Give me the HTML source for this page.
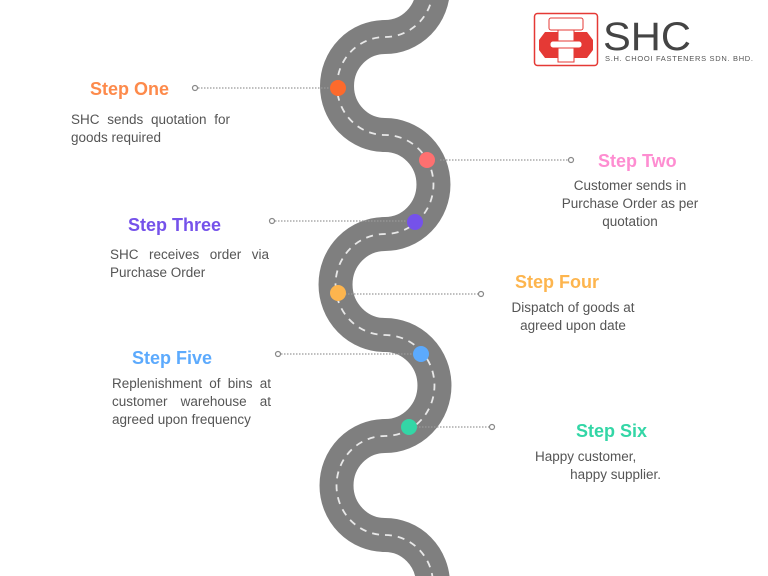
<!DOCTYPE html>
<html><head><meta charset="utf-8"><style>
html,body{margin:0;padding:0;background:#fff;overflow:hidden;width:768px;height:576px;position:relative;}
svg{display:block;position:absolute;left:0;top:0;}
.h{font-family:"Liberation Sans",sans-serif;font-weight:bold;font-size:18px;}
.t{position:absolute;font-family:"Liberation Sans",sans-serif;font-size:13.5px;color:#555;line-height:18px;white-space:nowrap;}
.j{text-align:justify;text-align-last:justify;white-space:normal;}
</style></head><body>
<svg width="768" height="576" viewBox="0 0 768 576" xmlns="http://www.w3.org/2000/svg">
<path d="M 433 -60 L 433 -12 A 48 49 0 0 1 385 37 A 48 49 0 0 0 385 135 A 48 49 0 0 1 385 234 A 48 49 0 0 0 385 335 A 48 49 0 0 1 385 436 A 48 49 0 0 0 385 535 A 48 49 0 0 1 433 584 L 433 640" fill="none" stroke="#7f7f7f" stroke-width="34"/>
<path d="M 433 -60 L 433 -12 A 48 49 0 0 1 385 37 A 48 49 0 0 0 385 135 A 48 49 0 0 1 385 234 A 48 49 0 0 0 385 335 A 48 49 0 0 1 385 436 A 48 49 0 0 0 385 535 A 48 49 0 0 1 433 584 L 433 640" fill="none" stroke="#e8e8e8" stroke-width="1.8" stroke-dasharray="7 6"/>
<g stroke="#999" stroke-width="1.2" stroke-dasharray="1.5 1.5" fill="none">
<line x1="198" y1="88" x2="330" y2="88"/>
<line x1="440" y1="160" x2="568" y2="160"/>
<line x1="275" y1="221" x2="410" y2="221"/>
<line x1="345" y1="294" x2="478" y2="294"/>
<line x1="281" y1="354" x2="415" y2="354"/>
<line x1="410" y1="427" x2="489" y2="427"/>
</g>
<g stroke="#888" stroke-width="1.2" fill="#fff">
<circle cx="195" cy="88" r="2.5"/><circle cx="571" cy="160" r="2.5"/>
<circle cx="272" cy="221" r="2.5"/><circle cx="481" cy="294" r="2.5"/>
<circle cx="278" cy="354" r="2.5"/><circle cx="492" cy="427" r="2.5"/>
</g>
<circle cx="338" cy="88" r="8" fill="#fd6a2c"/>
<circle cx="427" cy="160" r="8" fill="#fe7070"/>
<circle cx="415" cy="222" r="8" fill="#7552ea"/>
<circle cx="338" cy="293" r="8" fill="#fdb54e"/>
<circle cx="421" cy="354" r="8" fill="#5caafd"/>
<circle cx="409" cy="427" r="8" fill="#33d6a6"/>

<text class="h" x="90" y="95" fill="#fd8a4b">Step One</text>
<text class="h" x="598" y="167" fill="#fe8dd1">Step Two</text>
<text class="h" x="128" y="231" fill="#7552ea">Step Three</text>
<text class="h" x="515" y="288" fill="#fdb54e">Step Four</text>
<text class="h" x="132" y="364" fill="#5caafd">Step Five</text>
<text class="h" x="576" y="437" fill="#33d6a6">Step Six</text>

<rect x="534.5" y="13.5" width="63" height="52" rx="3" fill="#fff" stroke="#e53935" stroke-width="1.5"/>
<rect x="549" y="18" width="34" height="12" rx="2" fill="#fff" stroke="#e53935" stroke-width="1"/>
<path d="M545 32 L587 32 L593 40 L593 50 L587 58 L545 58 L539 50 L539 40 Z" fill="#e53935"/>
<rect x="558" y="30" width="16" height="32" fill="#fff" stroke="#e53935" stroke-width="1"/>
<rect x="550" y="41" width="32" height="7" rx="3" fill="#fff" stroke="#e53935" stroke-width="1"/>
<text x="603" y="50" font-family="Liberation Sans, sans-serif" font-size="40" fill="#444" textLength="88" lengthAdjust="spacingAndGlyphs">SHC</text>
<text x="605" y="61" font-family="Liberation Sans, sans-serif" font-size="7.5" fill="#555" textLength="148" lengthAdjust="spacing">S.H. CHOOI FASTENERS SDN. BHD.</text>
</svg>

<div class="t" style="left:71px;top:111px;"><div class="j" style="width:159px">SHC sends quotation for</div><div>goods required</div></div>
<div class="t" style="left:530px;top:177px;width:200px;text-align:center;">Customer sends in<br>Purchase Order as per<br>quotation</div>
<div class="t" style="left:110px;top:246px;"><div class="j" style="width:159px">SHC receives order via</div><div>Purchase Order</div></div>
<div class="t" style="left:473px;top:299px;width:200px;text-align:center;">Dispatch of goods at<br>agreed upon date</div>
<div class="t" style="left:112px;top:375px;"><div class="j" style="width:159px">Replenishment of bins at</div><div class="j" style="width:159px">customer warehouse at</div><div>agreed upon frequency</div></div>
<div class="t" style="left:535px;top:448px;">Happy customer,</div>
<div class="t" style="left:461px;top:466px;width:200px;text-align:right;">happy supplier.</div>
</body></html>
